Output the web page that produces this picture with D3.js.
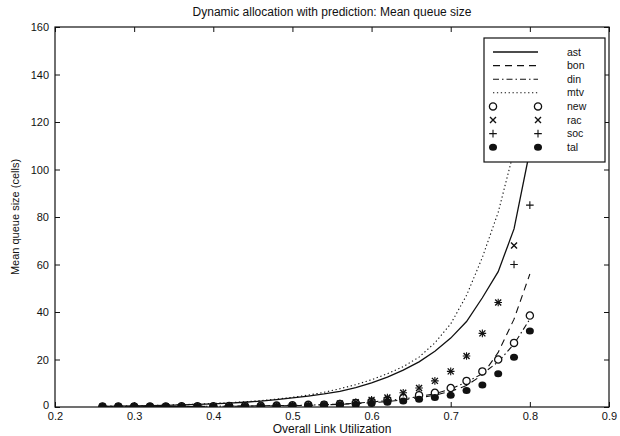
<!DOCTYPE html>
<html>
<head>
<meta charset="utf-8">
<script src="https://cdnjs.cloudflare.com/ajax/libs/d3/7.8.5/d3.min.js"></script>
<style>
body { margin: 0; background: #fff; }
svg { display: block; font-family: "Liberation Sans", Arial, sans-serif; }
</style>
</head>
<body>
<script>
// overall link utilization (x)
const util = [0.26, 0.28, 0.30, 0.32, 0.34, 0.36, 0.38, 0.40, 0.42, 0.44, 0.46, 0.48, 0.50, 0.52,
              0.54, 0.56, 0.58, 0.60, 0.62, 0.64, 0.66, 0.68, 0.70, 0.72, 0.74, 0.76, 0.78, 0.80];

// line series
const ast = [0.3, 0.4, 0.5, 0.6, 0.7, 0.9, 1.1, 1.3, 1.6, 2.0, 2.5, 3.1, 3.8, 4.6,
             5.5, 6.6, 8.2, 10.2, 12.6, 15.5, 19, 23.5, 29, 36, 46, 57, 75, 108];
const bon = [0.1, 0.1, 0.1, 0.1, 0.2, 0.2, 0.2, 0.3, 0.3, 0.4, 0.4, 0.5, 0.6, 0.7,
             0.9, 1.1, 1.4, 1.8, 2.3, 3.0, 3.9, 5.0, 6.6, 9, 13.5, 23, 37, 56];
const din = [0.2, 0.2, 0.2, 0.2, 0.2, 0.3, 0.3, 0.3, 0.4, 0.4, 0.5, 0.6, 0.7, 0.8,
             1.0, 1.2, 1.6, 2.1, 2.7, 3.4, 4.4, 5.6, 7.6, 10.5, 14, 19, 26.5, 37];
const mtv = [0.3, 0.4, 0.5, 0.6, 0.8, 1.0, 1.2, 1.5, 1.8, 2.2, 2.7, 3.3, 4.1, 5.0,
             6.2, 7.7, 9.4, 11.5, 14, 17, 21, 27, 35, 47, 63, 82, 108, 150];

// marker series
const newS = [0.2, 0.2, 0.2, 0.2, 0.2, 0.3, 0.3, 0.3, 0.4, 0.4, 0.5, 0.6, 0.7, 0.9,
              1.0, 1.3, 1.7, 2.3, 3.0, 3.8, 5, 6, 8, 11, 15, 20, 27, 38.5];
const rac = [0.2, 0.2, 0.2, 0.2, 0.2, 0.2, 0.2, 0.2, 0.2, 0.2, 0.3, 0.4, 0.5, 0.7,
             1.0, 1.5, 2, 3, 4, 6, 8, 11, 15, 21.5, 31, 44, 68, null];
const soc = [0.2, 0.2, 0.2, 0.2, 0.2, 0.2, 0.2, 0.2, 0.2, 0.2, 0.3, 0.4, 0.5, 0.7,
             1.0, 1.5, 2, 3, 4, 6, 8, 11, 15, 21.5, 31, 44, 60, 85];
const tal = [0.2, 0.2, 0.2, 0.2, 0.2, 0.2, 0.2, 0.2, 0.2, 0.2, 0.2, 0.2, 0.4, 0.5,
             0.6, 0.8, 1, 1.5, 2, 2.5, 3.3, 4, 5, 7, 9.3, 14, 21, 32];

const xTicks = [0.2, 0.3, 0.4, 0.5, 0.6, 0.7, 0.8, 0.9];
const yTicks = [0, 20, 40, 60, 80, 100, 120, 140, 160];

const lineNames = ["ast", "bon", "din", "mtv"];
const markerNames = ["new", "rac", "soc", "tal"];

const width = 620,
    height = 436;
const margin = {top: 27, right: 11, bottom: 29, left: 55};
const w = width - margin.left - margin.right,
    h = height - margin.top - margin.bottom;

const svg = d3.select('body').append('svg')
    .attr('width', width)
    .attr('height', height);

svg.append("rect").attr("width", width).attr("height", height).attr("fill", "#fff");

const x = d3.scaleLinear().domain([0.2, 0.9]).range([0, w]);
const y = d3.scaleLinear().domain([0, 160]).range([h, 0]);

const g = svg.append("g").attr("transform", "translate(" + margin.left + "," + margin.top + ")");

g.append("clipPath").attr("id", "clip")
  .append("rect").attr("width", w).attr("height", h);

// axes, ticks pointing inward on all four sides
const fmtX = d3.format(".1f");
const axB = g.append("g").attr("transform", "translate(0," + h + ")")
    .call(d3.axisBottom(x).tickValues(xTicks).tickFormat(fmtX).tickSizeInner(-5).tickSizeOuter(0).tickPadding(5));
const axT = g.append("g")
    .call(d3.axisTop(x).tickValues(xTicks).tickFormat("").tickSizeInner(-5).tickSizeOuter(0));
const axL = g.append("g")
    .call(d3.axisLeft(y).tickValues(yTicks).tickSizeInner(-5).tickSizeOuter(0).tickPadding(6));
const axR = g.append("g").attr("transform", "translate(" + w + ",0)")
    .call(d3.axisRight(y).tickValues(yTicks).tickFormat("").tickSizeInner(-5).tickSizeOuter(0));

[axB, axT, axL, axR].forEach(function(a) {
  a.select(".domain").remove();
  a.selectAll("line").attr("stroke", "#111").attr("stroke-width", 1);
  a.selectAll("text").attr("fill", "#111").style("font-size", "11px").style("font-family", "Liberation Sans, Arial, sans-serif");
});
// lift the "0" a little, as in the source, so it clears the "0.2" below it
axL.selectAll(".tick text").filter(function(d) { return d === 0; }).attr("dy", "0.1em");

g.append("rect").attr("width", w).attr("height", h)
  .attr("fill", "none").attr("stroke", "#111").attr("stroke-width", 1.2);

// lines
const lineSeries = [
  {name: "ast", values: ast, dash: null},
  {name: "bon", values: bon, dash: "7,5"},
  {name: "din", values: din, dash: "6,3,1.5,3"},
  {name: "mtv", values: mtv, dash: "1.3,2.6"}
];

const line = d3.line()
    .defined(function(d) { return d[1] != null; })
    .x(function(d) { return x(d[0]); })
    .y(function(d) { return y(d[1]); });

const plot = g.append("g").attr("clip-path", "url(#clip)");

lineSeries.forEach(function(s) {
  plot.append("path")
    .datum(util.map(function(u, i) { return [u, s.values[i]]; }))
    .attr("fill", "none")
    .attr("stroke", "#111")
    .attr("stroke-width", s.name == "ast" ? 1.3 : 1.1)
    .attr("stroke-dasharray", s.dash)
    .attr("d", line);
});

// markers
function drawMarker(sel, type) {
  if (type == "new") {
    sel.append("circle").attr("r", 3.6).attr("fill", "#fff").attr("stroke", "#111").attr("stroke-width", 1.3);
  } else if (type == "rac") {
    sel.append("path").attr("d", "M-3,-3L3,3M-3,3L3,-3").attr("stroke", "#111").attr("stroke-width", 1.4);
  } else if (type == "soc") {
    sel.append("path").attr("d", "M-3.8,0L3.8,0M0,-3.8L0,3.8").attr("stroke", "#111").attr("stroke-width", 1.1);
  } else {
    sel.append("ellipse").attr("rx", 4).attr("ry", 3.5).attr("fill", "#111");
  }
}

const markerSeries = [
  {name: "new", values: newS},
  {name: "rac", values: rac},
  {name: "soc", values: soc},
  {name: "tal", values: tal}
];

markerSeries.forEach(function(s) {
  const pts = util.map(function(u, i) { return [u, s.values[i]]; })
      .filter(function(d) { return d[1] != null; });
  plot.append("g").selectAll("g")
      .data(pts)
      .enter().append("g")
      .attr("transform", function(d) { return "translate(" + x(d[0]) + "," + y(d[1]) + ")"; })
      .each(function() { drawMarker(d3.select(this), s.name); });
});

// legend
const lg = svg.append("g").attr("transform", "translate(484,38)");
lg.append("rect").attr("width", 121).attr("height", 124)
  .attr("fill", "#fff").attr("stroke", "#111").attr("stroke-width", 1.2);

const rowY = function(i) { return 14 + i * 13.6; };

lineSeries.forEach(function(s, i) {
  lg.append("line").attr("x1", 9).attr("x2", 54).attr("y1", rowY(i)).attr("y2", rowY(i))
    .attr("stroke", "#111").attr("stroke-width", s.name == "ast" ? 1.3 : 1.1)
    .attr("stroke-dasharray", s.dash);
});
markerSeries.forEach(function(s, i) {
  [9, 54].forEach(function(px) {
    const m = lg.append("g").attr("transform", "translate(" + px + "," + rowY(i + 4) + ")");
    drawMarker(m, s.name);
  });
});
lineNames.concat(markerNames).forEach(function(n, i) {
  lg.append("text").attr("x", 83).attr("y", rowY(i)).attr("dy", "0.35em")
    .style("font-size", "10.5px").attr("fill", "#111").text(n);
});

// titles
svg.append("text").attr("x", margin.left + w / 2).attr("y", 16)
  .attr("text-anchor", "middle").style("font-size", "12px").attr("fill", "#111")
  .text("Dynamic allocation with prediction: Mean queue size");

svg.append("text").attr("x", margin.left + w / 2).attr("y", 433)
  .attr("text-anchor", "middle").style("font-size", "12px").attr("fill", "#111")
  .text("Overall Link Utilization");

svg.append("text")
  .attr("transform", "translate(19," + (margin.top + h / 2) + ") rotate(-90)")
  .attr("text-anchor", "middle").style("font-size", "11px").attr("fill", "#111")
  .text("Mean queue size (cells)");
</script>
</body>
</html>
